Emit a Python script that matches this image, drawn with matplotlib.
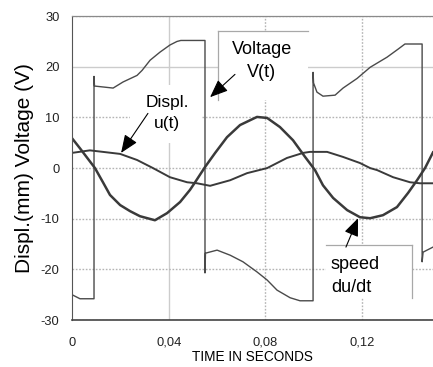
#!/usr/bin/env python3
"""
Voltage, displacement and speed traces of the actuator test (one ~0.15 s window).
"""

from __future__ import annotations

import matplotlib

matplotlib.use("Agg")
import matplotlib.pyplot as plt
from matplotlib.patches import Rectangle
from matplotlib.lines import Line2D


# voltage V(t): ramped square wave, vertical jumps kept as repeated times
VOLT_T = [0.0, 0.0033, 0.0091, 0.0091, 0.0093, 0.0170, 0.0211, 0.0269, 0.0290,
          0.0323, 0.0364, 0.0405, 0.0434, 0.0450, 0.0550, 0.0550, 0.0552, 0.0600,
          0.0654, 0.0707, 0.0765, 0.0807, 0.0848, 0.0902, 0.0943, 0.0997, 0.0997,
          0.0999, 0.1013, 0.1038, 0.1088, 0.1121, 0.1179, 0.1233, 0.1303, 0.1349,
          0.1377, 0.1448, 0.1448, 0.1452, 0.1493]
VOLT_V = [-25.0, -25.8, -25.8, 18.1, 16.2, 15.8, 17.0, 18.3, 19.3,
          21.3, 22.9, 24.3, 25.0, 25.2, 25.2, -20.7, -16.8, -16.2,
          -17.2, -18.5, -20.5, -22.1, -24.1, -25.6, -26.2, -26.2, 18.9,
          16.8, 15.0, 14.2, 14.4, 15.8, 17.7, 19.9, 21.9, 23.5,
          24.5, 24.5, -18.5, -16.6, -15.6]

# speed du/dt
SPEED_T = [0.0, 0.0033, 0.0095, 0.0128, 0.0157, 0.0199, 0.0240, 0.0281, 0.0343,
           0.0393, 0.0447, 0.0488, 0.0509, 0.0550, 0.0592, 0.0641, 0.0695, 0.0765,
           0.0807, 0.0860, 0.0914, 0.0964, 0.1005, 0.1038, 0.1080, 0.1138, 0.1191,
           0.1233, 0.1286, 0.1344, 0.1390, 0.1427, 0.1460, 0.1493]
SPEED_V = [5.9, 3.9, 0.0, -2.8, -5.3, -7.3, -8.5, -9.5, -10.3,
           -8.9, -6.7, -4.3, -2.8, 0.2, 3.0, 6.1, 8.5, 10.1,
           9.9, 8.1, 5.5, 2.2, -0.4, -3.4, -5.9, -8.3, -9.7,
           -9.9, -9.3, -7.7, -4.9, -2.4, 0.0, 3.1]

# displacement u(t)
DISPL_T = [0.0, 0.0074, 0.0128, 0.0199, 0.0269, 0.0335, 0.0405, 0.0476, 0.0517,
           0.0571, 0.0654, 0.0724, 0.0807, 0.0889, 0.0956, 0.0984, 0.1055, 0.1121,
           0.1191, 0.1233, 0.1262, 0.1328, 0.1398, 0.1439, 0.1493]
DISPL_V = [3.0, 3.5, 3.2, 2.8, 1.6, 0.0, -1.8, -2.8, -3.0,
           -3.5, -2.4, -1.0, 0.0, 2.0, 3.0, 3.2, 3.2, 2.2,
           1.0, 0.0, -0.4, -1.8, -2.8, -3.0, -3.0]

X_TICKS = [0.0, 0.04, 0.08, 0.12]
X_TICK_LABELS = ["0", "0,04", "0,08", "0,12"]
Y_TICKS = [-30, -20, -10, 0, 10, 20, 30]
Y_TICK_LABELS = ["-30", "-20", "-10", "0", "10", "20", "30"]

TRACE_COLOR = "#3a3a3a"
GRID_COLOR = "#b4b4b4"
FONT = "Liberation Sans"


def label_box(ax, x0, y0, x1, y1, edges=()):
    """White box (axes fraction) that hides the grid, with optional grey edges."""
    ax.add_patch(Rectangle((x0, y0), x1 - x0, y1 - y0, transform=ax.transAxes,
                           facecolor="white", edgecolor="none", zorder=3))
    for (xa, ya), (xb, yb) in edges:
        ax.add_line(Line2D([xa, xb], [ya, yb], transform=ax.transAxes,
                           color="#a8a8a8", lw=0.9, zorder=3.5))


def main() -> None:
    plt.rcParams["font.family"] = [FONT, "DejaVu Sans"]
    fig = plt.figure(figsize=(4.33, 3.67), dpi=100)
    ax = fig.add_axes([0.1663, 0.128, 0.8337, 0.828])

    ax.plot(VOLT_T, VOLT_V, color="#4a4a4a", lw=1.0, zorder=2)
    ax.plot(SPEED_T, SPEED_V, color=TRACE_COLOR, lw=1.8, zorder=2)
    ax.plot(DISPL_T, DISPL_V, color=TRACE_COLOR, lw=1.4, zorder=2)

    ax.set_xlim(0, 0.1493)
    ax.set_ylim(-30, 30)
    ax.set_xticks(X_TICKS, X_TICK_LABELS, fontsize=9.3)
    ax.set_yticks(Y_TICKS, Y_TICK_LABELS, fontsize=9.3)
    ax.tick_params(axis="x", length=0, pad=12, colors="#222222")
    ax.tick_params(axis="y", length=0, pad=9, colors="#222222")

    ax.grid(True, color=GRID_COLOR, linestyle=(0, (1.2, 1.2)), lw=1.0)
    ax.get_xgridlines()[1].set_linestyle("-")
    ax.get_xgridlines()[1].set_color("#cccccc")
    ax.get_ygridlines()[5].set_linestyle("-")
    ax.get_ygridlines()[5].set_color("#cccccc")
    ax.get_xgridlines()[0].set_visible(False)

    ax.spines["right"].set_visible(False)
    ax.spines["top"].set_color("#8a8a8a")
    ax.spines["top"].set_linewidth(0.9)
    ax.spines["left"].set_color("#555555")
    ax.spines["bottom"].set_color("#444444")
    ax.spines["bottom"].set_linewidth(1.2)

    ax.set_xlabel("TIME IN SECONDS", fontsize=9.8, labelpad=1)
    ax.set_ylabel("Displ.(mm) Voltage (V)", fontsize=15)
    ax.yaxis.set_label_coords(-0.105, 0.5)

    # labels with white boxes
    label_box(ax, 0.404, 0.724, 0.654, 0.951,
              edges=[((0.404, 0.951), (0.654, 0.951)), ((0.404, 0.951), (0.404, 0.724))])
    ax.text(0.526, 0.852, "Voltage\nV(t)", transform=ax.transAxes, ha="center",
            va="center", fontsize=13, linespacing=1.45, zorder=4)

    label_box(ax, 0.161, 0.582, 0.360, 0.773)
    ax.text(0.263, 0.681, "Displ.\nu(t)", transform=ax.transAxes, ha="center",
            va="center", fontsize=12.5, linespacing=1.45, zorder=4)

    label_box(ax, 0.704, 0.072, 0.942, 0.247,
              edges=[((0.704, 0.247), (0.942, 0.247)), ((0.942, 0.247), (0.942, 0.072))])
    ax.text(0.717, 0.145, "speed\ndu/dt", transform=ax.transAxes, ha="left",
            va="center", fontsize=13, linespacing=1.45, zorder=4)

    arrow = dict(arrowstyle="-|>,head_length=1.1,head_width=0.45", color="black",
                 lw=0.8, shrinkA=0, shrinkB=0)
    ax.annotate("", xy=(0.0571, 14.0), xytext=(0.0674, 18.5), arrowprops=arrow, zorder=5)
    ax.annotate("", xy=(0.0203, 3.0), xytext=(0.0314, 10.8), arrowprops=arrow, zorder=5)
    ax.annotate("", xy=(0.1183, -9.9), xytext=(0.1133, -15.6), arrowprops=arrow, zorder=5)

    fig.savefig("out.png", dpi=100)
    plt.close(fig)


if __name__ == "__main__":
    main()
